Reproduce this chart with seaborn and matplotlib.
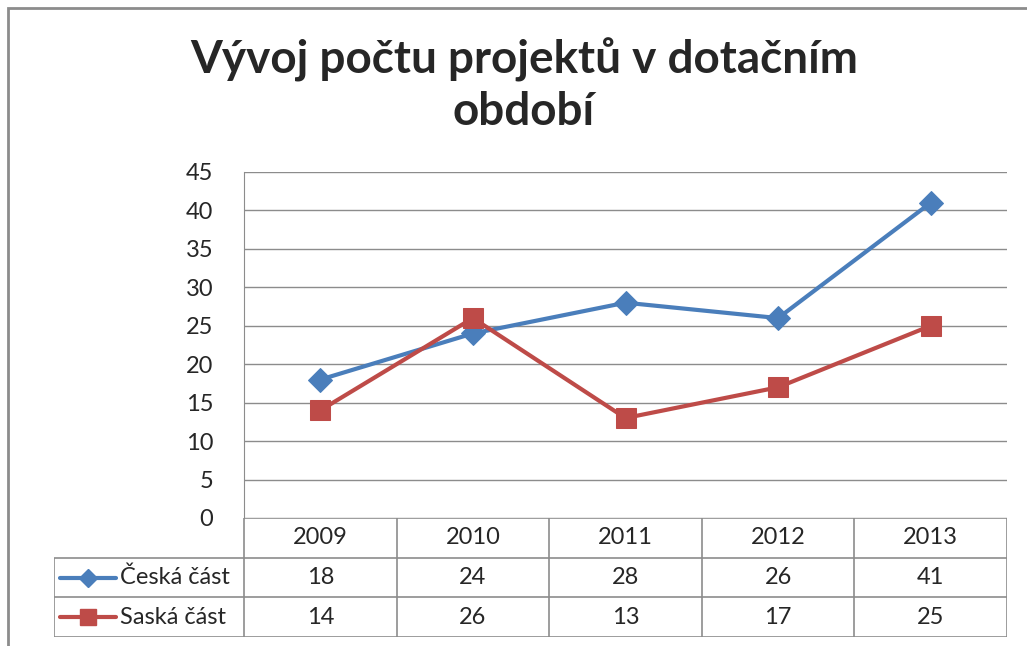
import matplotlib
matplotlib.use("Agg")
import matplotlib.pyplot as plt
import seaborn as sns
import pandas as pd

years = ["2009", "2010", "2011", "2012", "2013"]
ceska = [18, 24, 28, 26, 41]
saska = [14, 26, 13, 17, 25]
series_names = ["Česká část", "Saská část"]
colors = ["#4A7EBB", "#BE4B48"]
markers = ["D", "s"]

sns.set_style("white")
plt.rcParams["font.family"] = ["Lato", "DejaVu Sans"]

W, H = 1027, 646
fig = plt.figure(figsize=(W / 100, H / 100), dpi=100)


def px(x0, y0, x1, y1):
    # pixel box (top-left origin) -> figure fraction
    return [x0 / W, 1 - y1 / H, (x1 - x0) / W, (y1 - y0) / H]


# outer chart frame
fig.add_artist(plt.Rectangle((8 / W, -0.1), 1.2, 1 - 8 / H + 0.1, transform=fig.transFigure,
                             fill=False, edgecolor="#8c8c8c", lw=2))

fig.text(524 / W, 1 - 60 / H, "Vývoj počtu projektů v dotačním", ha="center", va="center",
         fontsize=33, fontweight="bold")
fig.text(524 / W, 1 - 112 / H, "období", ha="center", va="center",
         fontsize=33, fontweight="bold")

df = pd.DataFrame({"pos": list(range(len(years))) * 2,
                   "value": ceska + saska,
                   "series": [series_names[0]] * len(years) + [series_names[1]] * len(years)})

ax = fig.add_axes(px(244, 172, 1007, 518))
for name, c, m, ms in zip(series_names, colors, markers, [12, 14]):
    sns.lineplot(data=df[df["series"] == name], x="pos", y="value", ax=ax, color=c,
                 marker=m, markersize=ms, markeredgecolor=c, linewidth=3, legend=False)
ax.set_xlim(-0.5, len(years) - 0.5)
ax.set_ylim(0, 45)
ax.set_yticks(range(0, 46, 5))
ax.yaxis.grid(True, color="#8c8c8c", lw=1)
ax.set_axisbelow(True)
ax.set_xticks([])
ax.set_xlabel("")
ax.set_ylabel("")
ax.tick_params(axis="y", labelsize=17, pad=22, length=0)
for s in ["top", "right", "bottom"]:
    ax.spines[s].set_visible(False)
ax.spines["left"].set_color("#8c8c8c")

# data table below the plot
tx = fig.add_axes(px(54, 518, 1007, 637))
tx.set_xlim(-190 / 152.6 - 0.5, len(years) - 0.5)
tx.set_ylim(3, 0)
tx.axis("off")
gc = "#8c8c8c"
left = tx.get_xlim()[0]
tx.hlines(0, -0.5, len(years) - 0.5, color=gc, lw=1.2)
for r in [1, 2, 3]:
    tx.hlines(r, left, len(years) - 0.5, color=gc, lw=1.2)
for i in range(len(years) + 1):
    tx.vlines(i - 0.5, 0, 3, color=gc, lw=1.2)
tx.vlines(left, 1, 3, color=gc, lw=1.2)
for i, y in enumerate(years):
    tx.text(i, 0.5, y, ha="center", va="center", fontsize=17)
for r, (name, vals, c, m, ms) in enumerate(zip(series_names, [ceska, saska], colors, markers, [9, 11]), start=1):
    for i, v in enumerate(vals):
        tx.text(i, r + 0.5, str(v), ha="center", va="center", fontsize=17)
    lx0 = left + 6 / 152.6
    lx1 = left + 62 / 152.6
    tx.plot([lx0, lx1], [r + 0.5, r + 0.5], color=c, lw=3)
    tx.plot([(lx0 + lx1) / 2], [r + 0.5], marker=m, color=c, markersize=ms)
    tx.text(left + 66 / 152.6, r + 0.5, name, ha="left", va="center", fontsize=17)

fig.savefig("out.png", dpi=100)
